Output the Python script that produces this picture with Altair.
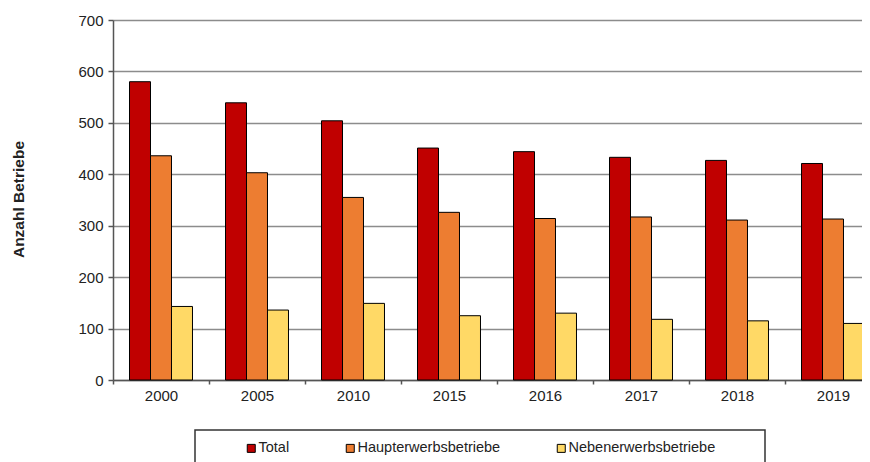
import altair as alt
import pandas as pd

years = ["2000", "2005", "2010", "2015", "2016", "2017", "2018", "2019"]
total = [580, 539, 504, 451, 444, 433, 427, 421]
haupt = [436, 403, 355, 326, 314, 317, 311, 313]
neben = [143, 136, 149, 125, 130, 118, 115, 110]
series = ["Total", "Haupterwerbsbetriebe", "Nebenerwerbsbetriebe"]
colors = ["#C00000", "#ED7D31", "#FFD966"]
y_ticks = [0, 100, 200, 300, 400, 500, 600, 700]

rows = []
for i, yr in enumerate(years):
    for s, vals in zip(series, [total, haupt, neben]):
        rows.append({"Jahr": yr, "Serie": s, "Anzahl": vals[i]})
df = pd.DataFrame(rows)

FONT = "Liberation Sans"

bars = alt.Chart(df).mark_bar(stroke="black", strokeWidth=1).encode(
    x=alt.X(
        "Jahr:N", sort=years,
        scale=alt.Scale(paddingInner=0, paddingOuter=0, range=[0, 768]),
        axis=alt.Axis(title=None, labelAngle=0, tickBand="extent", tickSize=4,
                      labelPadding=4, labelFontSize=15, labelFont=FONT,
                      labelColor="#222", domainColor="#555", domainWidth=1.5,
                      tickColor="#555", tickWidth=1.5, grid=False),
    ),
    xOffset=alt.XOffset("Serie:N", sort=series,
                        scale=alt.Scale(paddingInner=0, paddingOuter=0.786)),
    y=alt.Y(
        "Anzahl:Q",
        scale=alt.Scale(domain=[0, 700], nice=False),
        axis=alt.Axis(values=y_ticks, title="Anzahl Betriebe", titleFont=FONT,
                      titleFontSize=15.5, titleFontWeight="bold", titleColor="#222",
                      titleX=-95, titleY=179, titleAlign="center",
                      titleBaseline="middle",
                      labelFontSize=15, labelFont=FONT, labelColor="#222",
                      labelPadding=5, tickSize=5, tickColor="#555", tickWidth=1.5,
                      domainColor="#555", domainWidth=1.5,
                      grid=True, gridColor="#8c8c8c", gridWidth=1.5),
    ),
    color=alt.Color(
        "Serie:N", sort=series,
        scale=alt.Scale(domain=series, range=colors),
        legend=alt.Legend(
            title=None, orient="none", legendX=131, legendY=421,
            direction="horizontal", symbolType="square", symbolSize=64,
            symbolStrokeColor="black", symbolStrokeWidth=1, symbolOpacity=1,
            labelFont=FONT, labelFontSize=14.5, labelColor="#222",
            columnPadding=53, labelOffset=0, padding=0,
        ),
    ),
)

frame_df = pd.DataFrame({"k": [0]})
frame = alt.Chart(frame_df).mark_rect(
    fillOpacity=0, stroke="#333", strokeWidth=1.5
).encode(
    x=alt.value(82), x2=alt.value(652), y=alt.value(410), y2=alt.value(500)
)

chart = alt.layer(bars, frame).properties(
    width=749, height=360,
    autosize=alt.AutoSizeParams(type="none"),
    padding={"left": 105, "top": 12, "right": 0, "bottom": 82},
).configure_view(stroke=None)

chart.save("out.html", embed_options={"renderer": "svg", "actions": False})
